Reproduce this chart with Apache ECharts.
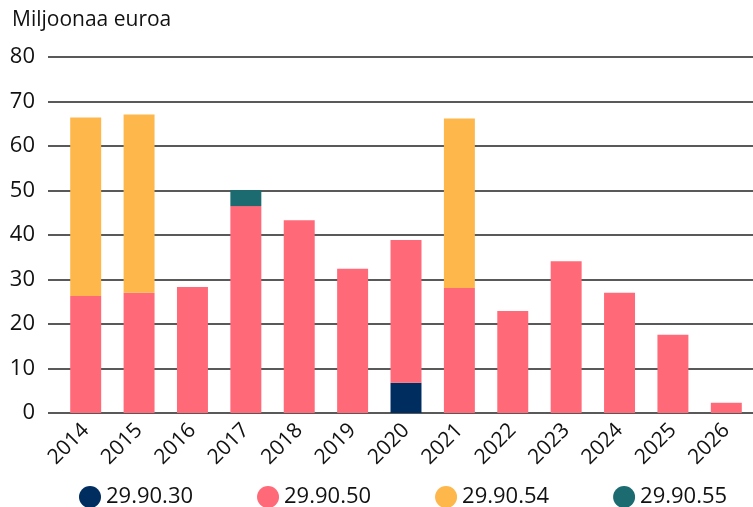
<!DOCTYPE html>
<html><head><meta charset="utf-8">
<script src="https://cdn.jsdelivr.net/npm/echarts@6/dist/echarts.min.js"></script>
<style>html,body{margin:0;padding:0;background:#fff}#c{width:753px;height:507px}</style>
</head><body><div id="c"></div>
<script>
const categories = ['2014','2015','2016','2017','2018','2019','2020','2021','2022','2023','2024','2025','2026'];
const s3030 = [0,0,0,0,0,0,6.8,0,0,0,0,0,0];
const s3050 = [26.3,27.0,28.3,46.5,43.3,32.4,32.1,28.1,22.9,34.1,27.0,17.6,2.3];
const s3054 = [40.1,40.1,0,0,0,0,0,38.1,0,0,0,0,0];
const s3055 = [0,0,0,3.6,0,0,0,0,0,0,0,0,0];
const yTicks = [0,10,20,30,40,50,60,70,80];
const names = ['29.90.30','29.90.50','29.90.54','29.90.55'];
const colors = ['#002d5f','#ff6978','#fdb74a','#1b6b70'];
const font = '"Open Sans", sans-serif';
const chart = echarts.init(document.getElementById('c'));
const mk = (name, data, color) => ({
  name, type: 'bar', stack: 'a', data: data.map(v => v === 0 ? null : v),
  xAxisIndex: 1, yAxisIndex: 1,
  barWidth: '58%', itemStyle: { color }, animation: false
});
const yMin = yTicks[0], yMax = yTicks[yTicks.length-1];
chart.setOption({
  animation: false,
  title: { text: 'Miljoonaa euroa', left: 7, top: 5, textStyle: { fontFamily: font, fontSize: 21, fontWeight: 'normal', color: '#111' } },
  grid: [
    { left: 48, right: 0, top: 57, bottom: 94 },
    { left: 59, right: 0, top: 57, bottom: 94 }
  ],
  legend: {
    top: 481, left: 74, icon: 'circle', itemWidth: 22, itemHeight: 22, itemGap: 64,
    textStyle: { fontFamily: font, fontSize: 22, color: '#111' },
    data: names
  },
  xAxis: [
    { type: 'category', gridIndex: 0, data: categories, show: false },
    { type: 'category', gridIndex: 1, data: categories,
      axisLine: { show: false }, axisTick: { show: false },
      axisLabel: { rotate: 45, fontFamily: font, fontSize: 21, color: '#111', margin: 14 } }
  ],
  yAxis: [
    { type: 'value', gridIndex: 0, min: yMin, max: yMax, interval: 10,
      axisLine: { show: false }, axisTick: { show: false },
      axisLabel: { fontFamily: font, fontSize: 22, color: '#111', margin: 13 },
      splitLine: { lineStyle: { color: '#222', width: 1.5 } } },
    { type: 'value', gridIndex: 1, min: yMin, max: yMax, interval: 10, show: false, splitLine: { show: false } }
  ],
  series: [mk(names[0], s3030, colors[0]), mk(names[1], s3050, colors[1]), mk(names[2], s3054, colors[2]), mk(names[3], s3055, colors[3])]
});
</script></body></html>
